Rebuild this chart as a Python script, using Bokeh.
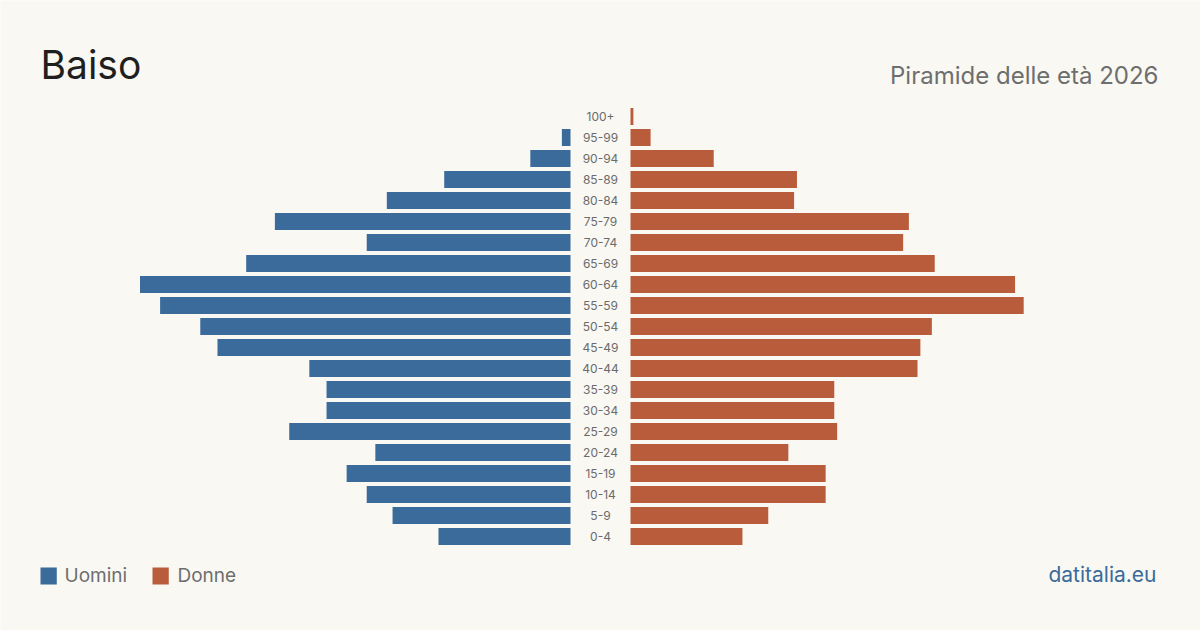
from bokeh.plotting import figure
from bokeh.models import Range1d, Label, ColumnDataSource
from bokeh.core.properties import value
from bokeh.embed import file_html
from bokeh.resources import INLINE

# Population by five-year age class, youngest first
age_groups = ["0-4", "5-9", "10-14", "15-19", "20-24", "25-29", "30-34", "35-39",
              "40-44", "45-49", "50-54", "55-59", "60-64", "65-69", "70-74", "75-79",
              "80-84", "85-89", "90-94", "95-99", "100+"]
men = [46, 62, 71, 78, 68, 98, 85, 85, 91, 123, 129, 143, 150, 113, 71, 103, 64, 44, 14, 3, 0]
women = [39, 48, 68, 68, 55, 72, 71, 71, 100, 101, 105, 137, 134, 106, 95, 97, 57, 58, 29, 7, 1]

W, H = 1200, 630
BG = "#f9f8f3"
BLUE = "#3b6b9b"
RED = "#b95c3c"
FONT = "Inter"

PX_PER_PERSON = 2.87
GAP = 30 / PX_PER_PERSON          # half-width of the label column
ROW_PX = 21
ROW0_PX = 536                     # vertical centre of the youngest row

p = figure(width=W, height=H, output_backend="svg", toolbar_location=None,
           x_range=Range1d(-600 / PX_PER_PERSON, 600 / PX_PER_PERSON),
           y_range=Range1d((ROW0_PX - H) / ROW_PX, ROW0_PX / ROW_PX),
           min_border=0, background_fill_color=BG, border_fill_color=BG)
p.axis.visible = False
p.grid.visible = False
p.outline_line_color = None

idx = list(range(len(age_groups)))
src = ColumnDataSource(dict(
    y=idx, age=age_groups,
    m_left=[-GAP - v for v in men], m_right=[-GAP] * len(men),
    w_left=[GAP] * len(women), w_right=[GAP + v for v in women],
    zero=[0] * len(idx),
))

bar_h = 17 / ROW_PX
p.hbar(y="y", left="m_left", right="m_right", height=bar_h, source=src,
       fill_color=BLUE, line_color=None)
p.hbar(y="y", left="w_left", right="w_right", height=bar_h, source=src,
       fill_color=RED, line_color=None)

p.text(x="zero", y="y", text="age", source=src, text_align="center",
       text_baseline="middle", text_font=value(FONT), text_font_size="12px",
       text_color="#6b6b6b")


def label(x, baseline, text, size_px, color, align="left"):
    # screen-unit label whose glyph baseline sits at `baseline` px from the top
    y_top = baseline - 0.42 * size_px
    p.add_layout(Label(x=x, y=H - y_top, x_units="screen", y_units="screen",
                       text=text, text_font=FONT, text_font_size=f"{size_px}px",
                       text_color=color, text_align=align,
                       text_baseline="alphabetic"))


label(40, 80, "Baiso", 39, "#1f1f1f")
label(1158, 85, "Piramide delle età 2026", 24, "#6e6e6e", "right")

# legend
p.add_layout(Label(x=40, y=H - 584, x_units="screen", y_units="screen", text=" ",
                   background_fill_color=BLUE, text_font_size="1px",
                   padding=8, border_line_color=None))
label(64, 583, "Uomini", 19, "#6e6e6e")
p.add_layout(Label(x=152, y=H - 584, x_units="screen", y_units="screen", text=" ",
                   background_fill_color=RED, text_font_size="1px",
                   padding=8, border_line_color=None))
label(177, 583, "Donne", 19, "#6e6e6e")

label(1156, 583, "datitalia.eu", 21, BLUE, "right")

open("out.html", "w").write(file_html(p, INLINE))
